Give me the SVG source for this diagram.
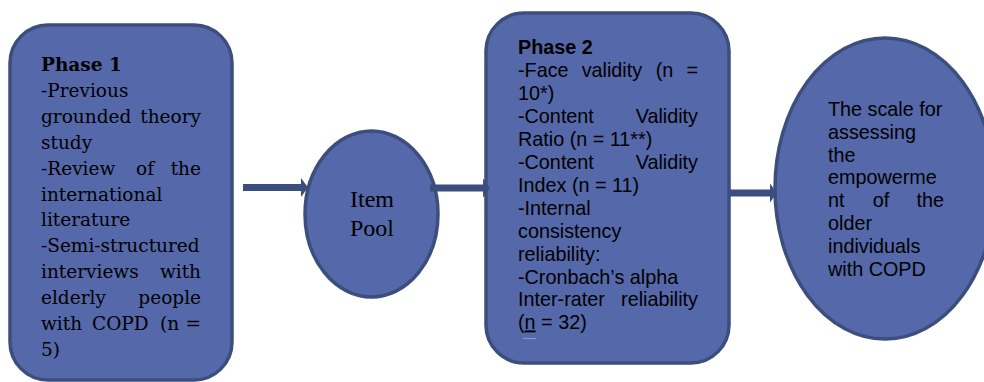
<svg xmlns="http://www.w3.org/2000/svg" width="984" height="382" viewBox="0 0 984 382">
<defs>
<style>
.node{fill:#5568A9;stroke:#3C4E7E;stroke-width:3.5}
.serif{font-family:"DejaVu Serif","Liberation Serif",serif;font-size:18.5px;fill:#000}
.pool{font-family:"Liberation Serif","Times New Roman",serif;font-size:24px;fill:#000}
.sans{font-family:"Liberation Sans",Arial,sans-serif;font-size:19.8px;fill:#000}
.end{text-anchor:end}
.conn{stroke:#3C4E7E;stroke-width:7;fill:none}
</style>
<marker id="head" markerUnits="userSpaceOnUse" markerWidth="8" markerHeight="19" refX="0" refY="9.5" orient="auto">
<path d="M0,0 L7,9.5 L0,19 Z" fill="#3C4E7E"/>
</marker>
</defs>
<rect width="984" height="382" fill="#fff"/>

<g id="phase1">
<rect class="node" x="10" y="25" width="222" height="355" rx="38"/>
<text class="serif">
<tspan x="41" y="71" font-weight="bold">Phase 1</tspan>
<tspan x="41" y="96.9">-Previous</tspan>
<tspan x="41" y="122.8">grounded</tspan>
<tspan x="41" y="148.7">study</tspan>
<tspan x="41" y="174.6">-Review</tspan>
<tspan x="136" y="174.6">of</tspan>
<tspan x="41" y="200.5">international</tspan>
<tspan x="41" y="226.4">literature</tspan>
<tspan x="41" y="252.3">-Semi-structured</tspan>
<tspan x="41" y="278.2">interviews</tspan>
<tspan x="41" y="304.1">elderly</tspan>
<tspan x="41" y="330">with</tspan>
<tspan x="92" y="330">COPD</tspan>
<tspan x="160" y="330">(n</tspan>
<tspan x="41" y="355.9">5)</tspan>
</text>
<text class="serif end" x="201" y="122.8">theory</text>
<text class="serif end" x="201" y="174.6">the</text>
<text class="serif end" x="201" y="278.2">with</text>
<text class="serif end" x="201" y="304.1">people</text>
<text class="serif end" x="201" y="330">=</text>
</g>

<g id="itempool">
<ellipse class="node" cx="371.5" cy="214" rx="66.5" ry="83"/>
<text class="pool" text-anchor="middle" x="372" y="207">Item</text>
<text class="pool" text-anchor="middle" x="372" y="236">Pool</text>
</g>

<g id="phase2">
<rect class="node" x="486" y="13" width="243" height="350" rx="38"/>
<text class="sans">
<tspan x="518" y="54" font-weight="bold">Phase 2</tspan>
<tspan x="518" y="76.9">-Face</tspan>
<tspan x="581.7" y="76.9">validity</tspan>
<tspan x="655.7" y="76.9">(n</tspan>
<tspan x="518" y="99.9">10*)</tspan>
<tspan x="518" y="122.8">-Content</tspan>
<tspan x="518" y="145.8">Ratio (n = 11**)</tspan>
<tspan x="518" y="168.7">-Content</tspan>
<tspan x="518" y="191.7">Index (n = 11)</tspan>
<tspan x="518" y="214.6">-Internal</tspan>
<tspan x="518" y="237.6">consistency</tspan>
<tspan x="518" y="260.5">reliability:</tspan>
<tspan x="518" y="283.5">-Cronbach’s alpha</tspan>
<tspan x="518" y="306.4">Inter-rater</tspan>
<tspan x="518" y="329.4">(<tspan text-decoration="underline">n</tspan> = 32)</tspan>
</text>
<text class="sans end" x="698" y="76.9">=</text>
<text class="sans end" x="698" y="122.8">Validity</text>
<text class="sans end" x="698" y="168.7">Validity</text>
<text class="sans end" x="698" y="306.4">reliability</text>
<line x1="523" y1="338.5" x2="536" y2="338.5" stroke="#8A96C2" stroke-width="1.2"/>
</g>

<g id="scale">
<ellipse class="node" cx="885" cy="188.5" rx="110" ry="150.5"/>
<text class="sans">
<tspan x="828" y="116">The scale for</tspan>
<tspan x="828" y="138.8">assessing</tspan>
<tspan x="828" y="161.6">the</tspan>
<tspan x="828" y="184.4">empowerme</tspan>
<tspan x="828" y="207.2">nt</tspan>
<tspan x="872.7" y="207.2">of</tspan>
<tspan x="828" y="230">older</tspan>
<tspan x="828" y="252.8">individuals</tspan>
<tspan x="828" y="275.6">with COPD</tspan>
</text>
<text class="sans end" x="944" y="207.2">the</text>
</g>

<g id="connectors">
<line class="conn" x1="243" y1="187.5" x2="301" y2="187.5" marker-end="url(#head)"/>
<line class="conn" x1="430" y1="188" x2="483" y2="188" marker-end="url(#head)"/>
<line class="conn" x1="730" y1="193" x2="770" y2="193" marker-end="url(#head)"/>
</g>
</svg>
